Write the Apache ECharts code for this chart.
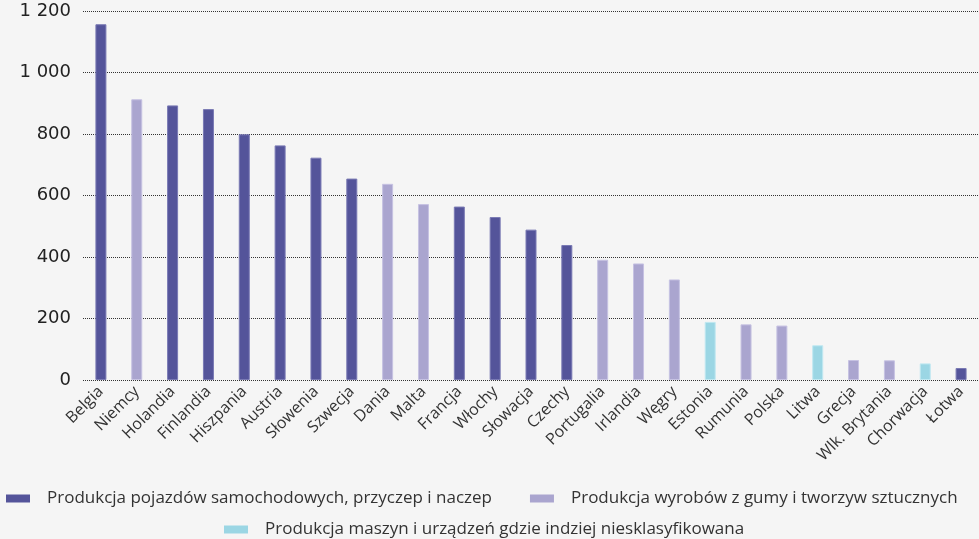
<!DOCTYPE html>
<html>
<head>
<meta charset="utf-8">
<script src="https://cdn.jsdelivr.net/npm/echarts@6/dist/echarts.min.js"></script>
<style>
  html, body { margin: 0; padding: 0; background: #f5f5f5; }
  #chart { width: 979px; height: 539px; }
</style>
</head>
<body>
<div id="chart"></div>
<script>
// kraje
var countries = ['Belgia', 'Niemcy', 'Holandia', 'Finlandia', 'Hiszpania', 'Austria', 'Słowenia', 'Szwecja', 'Dania', 'Malta',
    'Francja', 'Włochy', 'Słowacja', 'Czechy', 'Portugalia', 'Irlandia', 'Węgry', 'Estonia', 'Rumunia', 'Polska',
    'Litwa', 'Grecja', 'Wlk. Brytania', 'Chorwacja', 'Łotwa'];
// wartości i branża (0 = pojazdy, 1 = guma, 2 = maszyny)
var values = [1157, 913, 893, 881, 799, 763, 723, 655, 638, 572,
    564, 530, 489, 439, 391, 379, 327, 189, 181, 177,
    113, 65, 64, 54, 39];
var sector = [0, 1, 0, 0, 0, 0, 0, 0, 1, 1,
    0, 0, 0, 0, 1, 1, 1, 2, 1, 1,
    2, 1, 1, 2, 0];
var seriesNames = ['Produkcja pojazdów samochodowych, przyczep i naczep',
    'Produkcja wyrobów z gumy i tworzyw sztucznych',
    'Produkcja maszyn i urządzeń gdzie indziej niesklasyfikowana'];
var colors = ['#54549a', '#aaa5cf', '#9bd6e4'];
var borders = ['#7a7ab4', '#c6c2e2', '#c0e8f1'];
var yTicks = [0, 200, 400, 600, 800, 1000, 1200];

var font = 'Open Sans';

function seriesData(k) {
    return values.map(function (v, i) { return sector[i] === k ? v : '-'; });
}

var chart = echarts.init(document.getElementById('chart'));
var legendBase = {
    padding: 0,
    itemWidth: 24, itemHeight: 8,
    icon: 'rect',
    itemStyle: { borderWidth: 0 },
    textStyle: { fontFamily: font, fontSize: 17, color: '#333', padding: [0, 0, 0, 12] }
};
var option = {
    backgroundColor: '#f5f5f5',
    animation: false,
    textStyle: { fontFamily: font },
    grid: { left: 83, right: -7, top: 11, bottom: 159 },
    legend: [
        Object.assign({}, legendBase, { data: [seriesNames[0], seriesNames[1]], left: 6, top: 490, itemGap: 38 }),
        Object.assign({}, legendBase, { data: [seriesNames[2]], left: 224, top: 521 })
    ],
    xAxis: {
        type: 'category',
        data: countries,
        axisLine: { show: false },
        axisTick: { show: false },
        axisLabel: { rotate: 45, interval: 0, margin: 9, fontSize: 16, color: '#333', fontFamily: font }
    },
    yAxis: {
        type: 'value',
        min: yTicks[0], max: yTicks[yTicks.length - 1], interval: 200,
        axisLine: { show: false },
        axisTick: { show: false },
        axisLabel: {
            margin: 12, fontSize: 18, color: '#222', fontFamily: 'DejaVu Sans',
            formatter: function (v) { return String(v).replace(/\B(?=(\d{3})+(?!\d))/g, ' '); }
        },
        splitLine: { lineStyle: { type: [1, 1], color: '#333', width: 1 } }
    },
    series: [0, 1, 2].map(function (k) {
        return {
            name: seriesNames[k],
            type: 'bar',
            stack: 'all',
            barWidth: 11,
            data: seriesData(k),
            itemStyle: { color: colors[k], borderColor: borders[k], borderWidth: 1 }
        };
    })
};
chart.setOption(option);
</script>
</body>
</html>
